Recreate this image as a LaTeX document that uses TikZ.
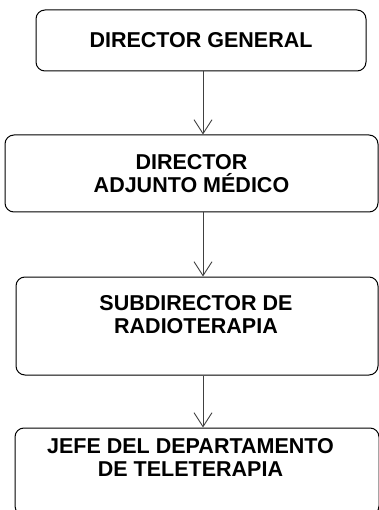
\documentclass[tikz,border=0pt]{standalone}
\usepackage{fontspec}
\setmainfont{Liberation Sans}
\usetikzlibrary{arrows.meta}

\begin{document}
\begin{tikzpicture}[x=1pt, y=-1pt, >={Straight Barb[length=14pt, width=18pt]}]

% --- Estilos del organigrama ---
\tikzset{
    caja/.style={draw=black, line width=1pt, rounded corners=9pt, rectangle, inner sep=0pt},
    texto/.style={font=\fontsize{21.5}{23}\selectfont\bfseries, align=center, inner sep=0pt},
    flecha/.style={->, draw=black!75, line width=0.9pt}
}

    % Marco de la imagen
    \clip (0, 0) rectangle (379, 510);

    % Director general
    \node[caja, texto, minimum width=330pt, minimum height=61pt] (dg) at (201, 40.5) {DIRECTOR GENERAL};

    % Director adjunto medico
    \node[caja, texto, minimum width=373pt, minimum height=77pt] (dam) at (191.5, 173.5) {DIRECTOR\\ADJUNTO MÉDICO};

    % Subdirector de radioterapia
    \node[caja, minimum width=362pt, minimum height=98pt] (sr) at (197, 326) {};
    \node[texto] (srt) at (196, 314.5) {SUBDIRECTOR DE\\RADIOTERAPIA};

    % Jefe del departamento (cortado abajo)
    \node[caja, minimum width=364pt, minimum height=87pt] (jd) at (197, 471.5) {};
    \node[texto] (jdt) at (190.5, 457.5) {JEFE DEL DEPARTAMENTO\\DE TELETERAPIA};

    % Flechas hacia abajo
    \draw[flecha] ([xshift=2pt]dg.south) -- ([xshift=2pt]dg.south |- dam.north);
    \draw[flecha] ([xshift=11.5pt]dam.south) -- ([xshift=11.5pt]dam.south |- sr.north);
    \draw[flecha] ([xshift=6pt]sr.south) -- ([xshift=6pt]sr.south |- jd.north);

\end{tikzpicture}
\end{document}
